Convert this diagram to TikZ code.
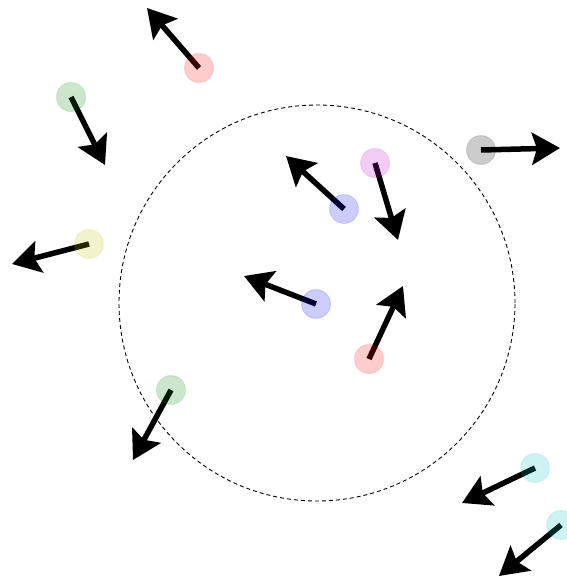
\documentclass[tikz,border=0pt]{standalone}
\usetikzlibrary{arrows.meta}
\definecolor{mr}{rgb}{1,0,0}
\definecolor{mg}{rgb}{0,0.5,0}
\definecolor{mb}{rgb}{0,0,1}
\definecolor{mc}{rgb}{0,0.75,0.75}
\definecolor{mm}{rgb}{0.75,0,0.75}
\definecolor{my}{rgb}{0.75,0.75,0}
\definecolor{mk}{rgb}{0,0,0}
\tikzset{
  dot/.style={circle, minimum size=29pt, inner sep=0pt, fill=#1, draw=#1, fill opacity=0.2, draw opacity=0.12, line width=1pt},
  arr/.style={line width=5.5pt, -{Stealth[length=28pt, width=32pt, inset=5pt]}, black},
  ring/.style={dashed, dash pattern=on 4pt off 3pt, line width=0.9pt, black}
}
\begin{document}
\begin{tikzpicture}[x=1pt, y=-1pt]
\useasboundingbox (0,0) rectangle (567,579);
\node[minimum size=396pt, circle, ring, draw] (ring) at (317,303) {};
% centers
\coordinate (c1) at (199,68);   \coordinate (t1) at (147,8);
\coordinate (c2) at (71,97);    \coordinate (t2) at (105,165);
\coordinate (c3) at (481,150);  \coordinate (t3) at (560,148);
\coordinate (c4) at (375,163);  \coordinate (t4) at (398,240);
\coordinate (c5) at (344,209);  \coordinate (t5) at (286,156);
\coordinate (c6) at (89,244);   \coordinate (t6) at (12,264);
\coordinate (c7) at (316,304);  \coordinate (t7) at (244,276);
\coordinate (c8) at (369,359);  \coordinate (t8) at (403,286);
\coordinate (c9) at (171,390);  \coordinate (t9) at (133,460);
\coordinate (c10) at (535,468); \coordinate (t10) at (462,503);
\coordinate (c11) at (561,525); \coordinate (t11) at (499,576);
\foreach \i in {1,...,11} { \draw[arr] (c\i) -- (t\i); }
\node[dot=mr] (d1) at (c1) {};
\node[dot=mg] (d2) at (c2) {};
\node[dot=mk] (d3) at (c3) {};
\node[dot=mm] (d4) at (c4) {};
\node[dot=mb] (d5) at (c5) {};
\node[dot=my] (d6) at (c6) {};
\node[dot=mb] (d7) at (c7) {};
\node[dot=mr] (d8) at (c8) {};
\node[dot=mg] (d9) at (c9) {};
\node[dot=mc] (d10) at (c10) {};
\node[dot=mc] (d11) at (c11) {};
\end{tikzpicture}
\end{document}
